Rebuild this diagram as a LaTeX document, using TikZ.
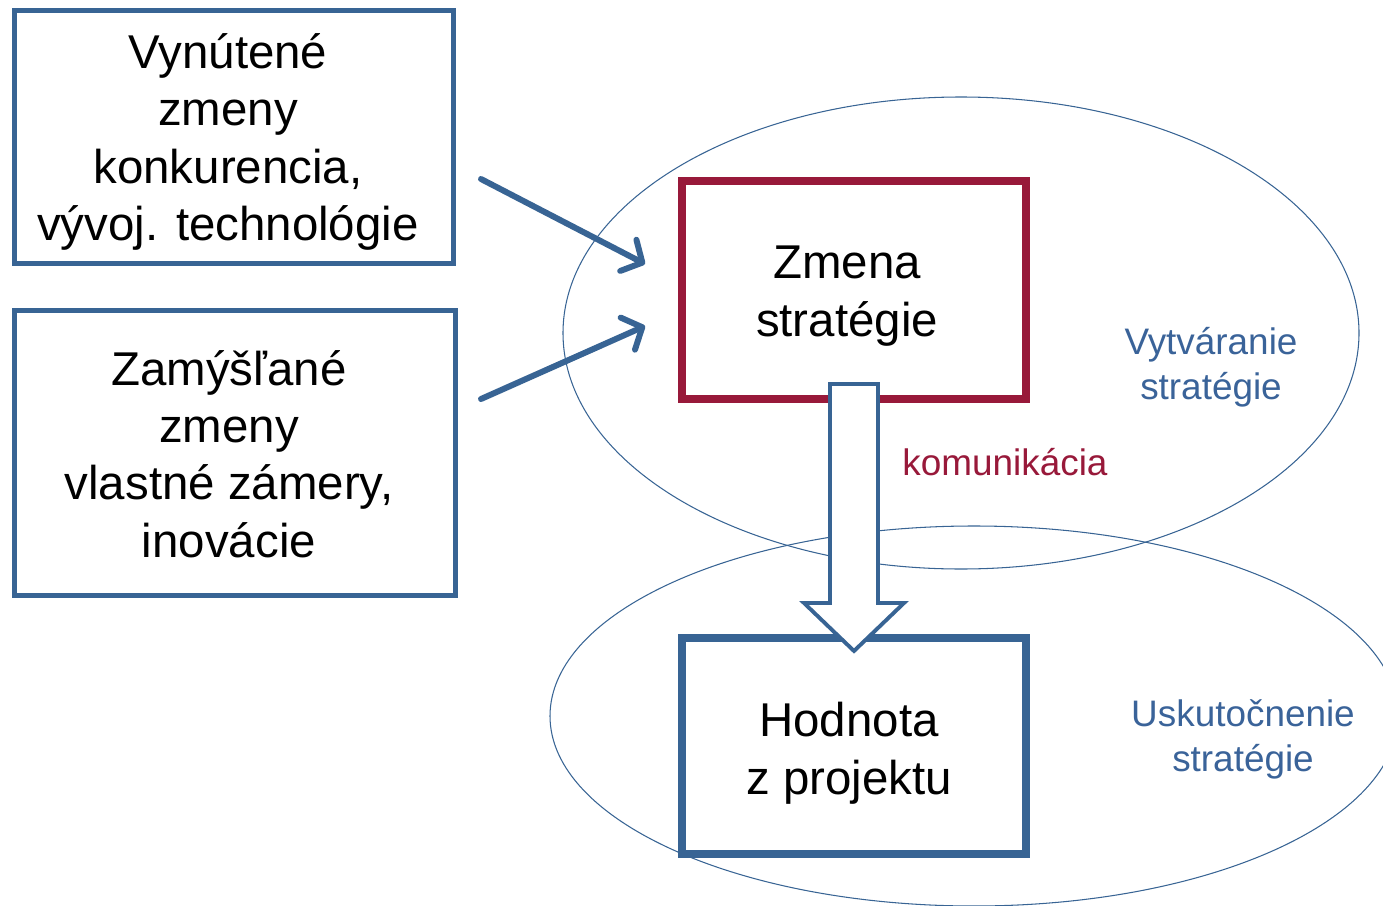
\documentclass[tikz,border=0pt]{standalone}
\usepackage{fontspec}
\setmainfont{Liberation Sans}
\usetikzlibrary{arrows.meta}
\definecolor{boxblue}{HTML}{386494}
\definecolor{txtblue}{HTML}{3A6399}
\definecolor{boxred}{HTML}{98193A}
\tikzset{
  px/.style={x=0.02cm,y=-0.02cm},
  bluebox/.style={draw=boxblue,line width=2.9pt,inner sep=0pt},
  thickbox/.style={draw=#1,line width=4.5pt,inner sep=0pt},
  boxtext/.style={align=center,font=\fontsize{27}{32.7}\selectfont},
  lbl/.style={align=center,text=#1,font=\fontsize{21}{25.5}\selectfont},
  oval/.style={draw=boxblue,line width=0.6pt},
  conn/.style={draw=boxblue,line width=3.4pt,line cap=round,
    -{Straight Barb[length=9pt,width=20pt,line cap=round,line join=round]}},
  blockarrow/.style={draw=boxblue,line width=2.2pt,fill=white,line join=miter}
}
\begin{document}
\begin{tikzpicture}[px]
\useasboundingbox (0,0) rectangle (1383,906);
% ellipses
\draw[oval] (961,333) ellipse [x radius=398, y radius=236];
\draw[oval] (974,716) ellipse [x radius=424, y radius=190];
% left boxes
\node[bluebox,minimum width=439*0.02cm,minimum height=253*0.02cm] (b1) at (234,137) {};
\node[boxtext] (b1t) at (228,142) {Vynútené\\zmeny\\konkurencia,\\vývoj. technológie};
\node[bluebox,minimum width=441*0.02cm,minimum height=285*0.02cm] (b2) at (235,453) {};
\node[boxtext] (b2t) at (229,454) {Zamýšľané\\zmeny\\vlastné zámery,\\inovácie};
% right boxes
\node[thickbox=boxred,minimum width=344*0.02cm,minimum height=218*0.02cm] (zs) at (854,290) {};
\node[boxtext] (zst) at (847,296) {Zmena\\stratégie};
\node[thickbox=boxblue,minimum width=344*0.02cm,minimum height=216*0.02cm] (hp) at (854,746) {};
\node[boxtext] (hpt) at (849,753) {Hodnota\\z projektu};
% labels
\node[lbl=txtblue] (vs) at (1211,367) {Vytváranie\\stratégie};
\node[lbl=txtblue] (us) at (1243,739) {Uskutočnenie\\stratégie};
\node[lbl=boxred] (kom) at (1005,462) {komunikácia};
% arrows
\coordinate (a1s) at (481,179);
\coordinate (a1e) at (645,264);
\coordinate (a2s) at (481,399);
\coordinate (a2e) at (645,326);
\draw[conn] (a1s) -- (a1e);
\draw[conn] (a2s) -- (a2e);
% block arrow
\draw[blockarrow] (830,384) -- (878,384) -- (878,603) -- (904,603) -- (854,651)
  -- (804,603) -- (830,603) -- cycle;
\end{tikzpicture}
\end{document}
